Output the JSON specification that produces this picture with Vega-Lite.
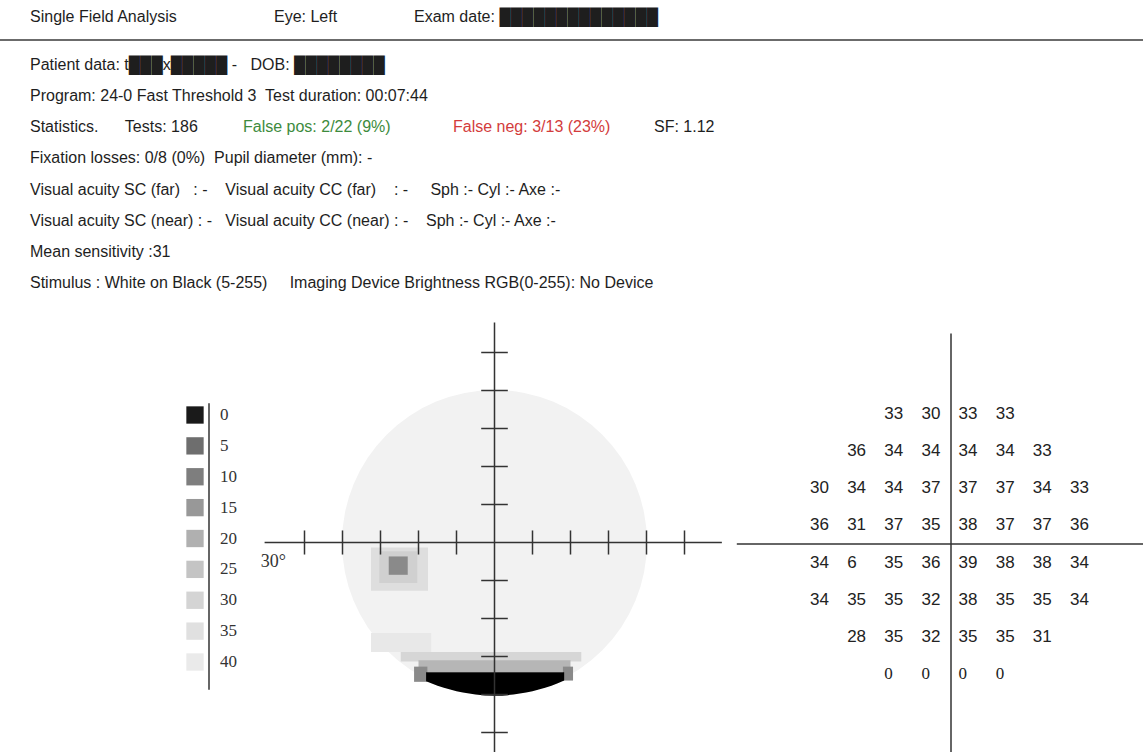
{
  "$schema": "https://vega.github.io/schema/vega-lite/v6.json",
  "width": 1143,
  "height": 752,
  "padding": 0,
  "autosize": {"type": "none"},
  "background": "#ffffff",
  "config": {"view": {"stroke": null}},
  "resolve": {"scale": {"x": "independent", "y": "independent", "color": "independent"}},
  "layer": [
    {
      "data": {"values": [
        {"seg": 0, "text": "Single Field Analysis"},
        {"seg": 1, "text": "Eye: Left"},
        {"seg": 2, "text": "Exam date: \u2588\u2588\u2588\u2588\u2588\u2588\u2588\u2588\u2588\u2588\u2588\u2588\u2588\u2588"}
      ]},
      "layer": [
        {
          "mark": {"type": "text", "align": "left", "baseline": "middle", "font": "Liberation Sans", "fontSize": 16, "color": "#1e1e1e"},
          "encoding": {
            "x": {"field": "seg", "type": "quantitative", "scale": {"domain": [0, 1, 2], "range": [30, 274, 414], "nice": false, "zero": false}, "axis": null},
            "y": {"datum": 0, "type": "quantitative", "scale": {"domain": [0, 1], "range": [17, 40], "nice": false, "zero": false}, "axis": null},
            "text": {"field": "text"}
          }
        },
        {
          "data": {"values": [{"rule": 1}]},
          "mark": {"type": "rule", "color": "#3a3a3a", "strokeWidth": 1.5},
          "encoding": {"y": {"field": "rule", "type": "quantitative", "axis": null}}
        }
      ]
    },
    {
      "data": {"values": [
        {"line": 1, "seg": 0, "kind": "plain", "text": "Patient data: t\u2588\u2588\u2588x\u2588\u2588\u2588\u2588\u2588 -\u00a0\u00a0 DOB: \u2588\u2588\u2588\u2588\u2588\u2588\u2588\u2588"},
        {"line": 2, "seg": 0, "kind": "plain", "text": "Program: 24-0 Fast Threshold 3\u00a0 Test duration: 00:07:44"},
        {"line": 3, "seg": 0, "kind": "plain", "text": "Statistics.\u00a0\u00a0\u00a0\u00a0\u00a0 Tests: 186"},
        {"line": 3, "seg": 1, "kind": "false pos", "text": "False pos: 2/22 (9%)"},
        {"line": 3, "seg": 2, "kind": "false neg", "text": "False neg: 3/13 (23%)"},
        {"line": 3, "seg": 3, "kind": "plain", "text": "SF: 1.12"},
        {"line": 4, "seg": 0, "kind": "plain", "text": "Fixation losses: 0/8 (0%)\u00a0 Pupil diameter (mm): -"},
        {"line": 5, "seg": 0, "kind": "plain", "text": "Visual acuity SC (far)\u00a0\u00a0 : -\u00a0\u00a0\u00a0 Visual acuity CC (far)\u00a0\u00a0\u00a0 : -\u00a0\u00a0\u00a0\u00a0 Sph :- Cyl :- Axe :-"},
        {"line": 6, "seg": 0, "kind": "plain", "text": "Visual acuity SC (near) : -\u00a0\u00a0 Visual acuity CC (near) : -\u00a0\u00a0\u00a0 Sph :- Cyl :- Axe :-"},
        {"line": 7, "seg": 0, "kind": "plain", "text": "Mean sensitivity :31"},
        {"line": 8, "seg": 0, "kind": "plain", "text": "Stimulus : White on Black (5-255)\u00a0\u00a0\u00a0\u00a0 Imaging Device Brightness RGB(0-255): No Device"}
      ]},
      "mark": {"type": "text", "align": "left", "baseline": "middle", "font": "Liberation Sans", "fontSize": 16},
      "encoding": {
        "x": {"field": "seg", "type": "quantitative", "scale": {"domain": [0, 1, 2, 3], "range": [30, 243, 453, 654], "nice": false, "zero": false}, "axis": null},
        "y": {"field": "line", "type": "quantitative", "scale": {"domain": [1, 8], "range": [65, 283], "nice": false, "zero": false}, "axis": null},
        "color": {"field": "kind", "type": "nominal", "scale": {"domain": ["plain", "false pos", "false neg"], "range": ["#1e1e1e", "#3d8b3d", "#d33c3c"]}, "legend": null},
        "text": {"field": "text"}
      }
    },
    {
      "data": {"values": [
        {"level": 0}, {"level": 5}, {"level": 10}, {"level": 15}, {"level": 20},
        {"level": 25}, {"level": 30}, {"level": 35}, {"level": 40}
      ]},
      "layer": [
        {
          "mark": {"type": "point", "shape": "square", "size": 300, "filled": true, "opacity": 1},
          "encoding": {
            "x": {"datum": 0, "type": "quantitative", "scale": {"domain": [0, 1, 2], "range": [195, 209, 220], "nice": false, "zero": false}, "axis": null},
            "y": {"field": "level", "type": "quantitative", "scale": {"domain": [0, 40], "range": [415, 662], "nice": false, "zero": false}, "axis": null},
            "color": {"field": "level", "type": "quantitative", "scale": {"domain": [0, 5, 10, 15, 20, 25, 30, 35, 40], "range": ["#1a1a1a", "#6e6e6e", "#7e7e7e", "#989898", "#b0b0b0", "#c4c4c4", "#d4d4d4", "#e0e0e0", "#eaeaea"]}, "legend": null}
          }
        },
        {
          "data": {"values": [{"part": "scale line"}]},
          "mark": {"type": "rule", "color": "#333333", "strokeWidth": 1.5},
          "encoding": {
            "x": {"datum": 1, "type": "quantitative"},
            "y": {"datum": -1.9, "type": "quantitative"},
            "y2": {"datum": 44.5}
          }
        },
        {
          "mark": {"type": "text", "align": "left", "baseline": "middle", "font": "Liberation Serif", "fontSize": 17, "color": "#333333"},
          "encoding": {
            "x": {"datum": 2, "type": "quantitative"},
            "y": {"field": "level", "type": "quantitative"},
            "text": {"field": "level", "type": "quantitative"}
          }
        }
      ]
    },
    {
      "layer": [
        {
          "data": {"values": [{"x": 0, "y": 0}]},
          "mark": {"type": "point", "shape": "circle", "size": 93025, "filled": true, "color": "#f2f2f2", "opacity": 1, "strokeWidth": 0},
          "encoding": {
            "x": {"field": "x", "type": "quantitative", "scale": {"domain": [-30, 30], "range": [304.5, 684.5], "nice": false, "zero": false}, "axis": null},
            "y": {"field": "y", "type": "quantitative", "scale": {"domain": [-30, 30], "range": [732.5, 352.5], "nice": false, "zero": false}, "axis": null}
          }
        },
        {
          "data": {"values": [
            {"x1": -19.5, "x2": -10.0, "y1": -14.3, "y2": -17.3, "level": 38},
            {"x1": -19.5, "x2": -10.5, "y1": -0.8, "y2": -7.6, "level": 33},
            {"x1": -18.2, "x2": -12.2, "y1": -1.4, "y2": -6.4, "level": 28},
            {"x1": -16.7, "x2": -13.7, "y1": -2.2, "y2": -5.1, "level": 12},
            {"x1": -14.8, "x2": 13.7, "y1": -17.3, "y2": -18.8, "level": 30},
            {"x1": -12.0, "x2": 12.0, "y1": -18.6, "y2": -20.5, "level": 21},
            {"x1": -12.7, "x2": -10.6, "y1": -19.6, "y2": -22.0, "level": 12},
            {"x1": 10.8, "x2": 12.4, "y1": -19.6, "y2": -21.8, "level": 12}
          ]},
          "mark": {"type": "rect"},
          "encoding": {
            "x": {"field": "x1", "type": "quantitative"},
            "x2": {"field": "x2"},
            "y": {"field": "y1", "type": "quantitative"},
            "y2": {"field": "y2"},
            "color": {"field": "level", "type": "quantitative", "scale": {"domain": [0, 5, 10, 15, 20, 25, 30, 35, 40], "range": ["#111111", "#6e6e6e", "#808080", "#999999", "#b2b2b2", "#c6c6c6", "#d6d6d6", "#e3e3e3", "#ececec"]}, "legend": null}
          }
        },
        {
          "data": {"values": [
            {"x": -10.8, "lo": -21.9, "hi": -20.5},
            {"x": -9, "lo": -22.6, "hi": -20.5},
            {"x": -7, "lo": -23.2, "hi": -20.5},
            {"x": -5, "lo": -23.7, "hi": -20.5},
            {"x": -3, "lo": -24.0, "hi": -20.5},
            {"x": 0, "lo": -24.2, "hi": -20.5},
            {"x": 3, "lo": -24.0, "hi": -20.5},
            {"x": 5, "lo": -23.7, "hi": -20.5},
            {"x": 7, "lo": -23.2, "hi": -20.5},
            {"x": 9, "lo": -22.6, "hi": -20.5},
            {"x": 11, "lo": -21.8, "hi": -20.5}
          ]},
          "mark": {"type": "area", "color": "#000000", "interpolate": "monotone", "opacity": 1},
          "encoding": {
            "x": {"field": "x", "type": "quantitative"},
            "y": {"field": "lo", "type": "quantitative"},
            "y2": {"field": "hi"}
          }
        },
        {
          "data": {"values": [
            {"x1": -36.3, "y1": 0, "x2": 35.9, "y2": 0},
            {"x1": 0, "y1": 34.75, "x2": 0, "y2": -36}
          ]},
          "mark": {"type": "rule", "color": "#333333", "strokeWidth": 1.5},
          "encoding": {
            "x": {"field": "x1", "type": "quantitative"},
            "y": {"field": "y1", "type": "quantitative"},
            "x2": {"field": "x2"},
            "y2": {"field": "y2"}
          }
        },
        {
          "data": {"values": [
            {"deg": -30}, {"deg": -24}, {"deg": -18}, {"deg": -12}, {"deg": -6},
            {"deg": 6}, {"deg": 12}, {"deg": 18}, {"deg": 24}, {"deg": 30}
          ]},
          "layer": [
            {
              "mark": {"type": "rule", "color": "#333333", "strokeWidth": 1.5},
              "encoding": {
                "x": {"field": "deg", "type": "quantitative"},
                "y": {"datum": -1.9, "type": "quantitative"},
                "y2": {"datum": 1.9}
              }
            },
            {
              "mark": {"type": "rule", "color": "#333333", "strokeWidth": 1.5},
              "encoding": {
                "y": {"field": "deg", "type": "quantitative"},
                "x": {"datum": -2.1, "type": "quantitative"},
                "x2": {"datum": 2.1}
              }
            }
          ]
        },
        {
          "data": {"values": [{"label": "30\u00b0"}]},
          "mark": {"type": "text", "align": "left", "baseline": "middle", "font": "Liberation Serif", "fontSize": 18, "color": "#333333"},
          "encoding": {
            "x": {"datum": -36.9, "type": "quantitative"},
            "y": {"datum": -3.0, "type": "quantitative"},
            "text": {"field": "label"}
          }
        }
      ]
    },
    {
      "data": {"values": [
        {"x": -9, "y": 21, "v": 33}, {"x": -3, "y": 21, "v": 30}, {"x": 3, "y": 21, "v": 33}, {"x": 9, "y": 21, "v": 33},
        {"x": -15, "y": 15, "v": 36}, {"x": -9, "y": 15, "v": 34}, {"x": -3, "y": 15, "v": 34}, {"x": 3, "y": 15, "v": 34}, {"x": 9, "y": 15, "v": 34}, {"x": 15, "y": 15, "v": 33},
        {"x": -21, "y": 9, "v": 30}, {"x": -15, "y": 9, "v": 34}, {"x": -9, "y": 9, "v": 34}, {"x": -3, "y": 9, "v": 37}, {"x": 3, "y": 9, "v": 37}, {"x": 9, "y": 9, "v": 37}, {"x": 15, "y": 9, "v": 34}, {"x": 21, "y": 9, "v": 33},
        {"x": -21, "y": 3, "v": 36}, {"x": -15, "y": 3, "v": 31}, {"x": -9, "y": 3, "v": 37}, {"x": -3, "y": 3, "v": 35}, {"x": 3, "y": 3, "v": 38}, {"x": 9, "y": 3, "v": 37}, {"x": 15, "y": 3, "v": 37}, {"x": 21, "y": 3, "v": 36},
        {"x": -21, "y": -3, "v": 34}, {"x": -15, "y": -3, "v": 6}, {"x": -9, "y": -3, "v": 35}, {"x": -3, "y": -3, "v": 36}, {"x": 3, "y": -3, "v": 39}, {"x": 9, "y": -3, "v": 38}, {"x": 15, "y": -3, "v": 38}, {"x": 21, "y": -3, "v": 34},
        {"x": -21, "y": -9, "v": 34}, {"x": -15, "y": -9, "v": 35}, {"x": -9, "y": -9, "v": 35}, {"x": -3, "y": -9, "v": 32}, {"x": 3, "y": -9, "v": 38}, {"x": 9, "y": -9, "v": 35}, {"x": 15, "y": -9, "v": 35}, {"x": 21, "y": -9, "v": 34},
        {"x": -15, "y": -15, "v": 28}, {"x": -9, "y": -15, "v": 35}, {"x": -3, "y": -15, "v": 32}, {"x": 3, "y": -15, "v": 35}, {"x": 9, "y": -15, "v": 35}, {"x": 15, "y": -15, "v": 31},
        {"x": -9, "y": -21, "v": 0}, {"x": -3, "y": -21, "v": 0}, {"x": 3, "y": -21, "v": 0}, {"x": 9, "y": -21, "v": 0}
      ]},
      "layer": [
        {
          "transform": [{"filter": "datum.v > 0"}],
          "mark": {"type": "text", "align": "left", "baseline": "middle", "dx": -11, "font": "Liberation Sans", "fontSize": 17, "color": "#222222"},
          "encoding": {
            "x": {"field": "x", "type": "quantitative", "scale": {"domain": [-21, 21], "range": [821, 1081], "nice": false, "zero": false}, "axis": null},
            "y": {"field": "y", "type": "quantitative", "scale": {"domain": [-21, 21], "range": [674, 414], "nice": false, "zero": false}, "axis": null},
            "text": {"field": "v", "type": "quantitative"}
          }
        },
        {
          "transform": [{"filter": "datum.v == 0"}],
          "mark": {"type": "text", "align": "left", "baseline": "middle", "dx": -11, "font": "Liberation Serif", "fontSize": 17, "color": "#222222"},
          "encoding": {
            "x": {"field": "x", "type": "quantitative"},
            "y": {"field": "y", "type": "quantitative"},
            "text": {"field": "v", "type": "quantitative"}
          }
        },
        {
          "data": {"values": [
            {"x1": 0, "y1": 34, "x2": 0, "y2": -35},
            {"x1": -34.6, "y1": 0, "x2": 31.5, "y2": 0}
          ]},
          "mark": {"type": "rule", "color": "#333333", "strokeWidth": 1.5},
          "encoding": {
            "x": {"field": "x1", "type": "quantitative"},
            "y": {"field": "y1", "type": "quantitative"},
            "x2": {"field": "x2"},
            "y2": {"field": "y2"}
          }
        }
      ]
    }
  ]
}
